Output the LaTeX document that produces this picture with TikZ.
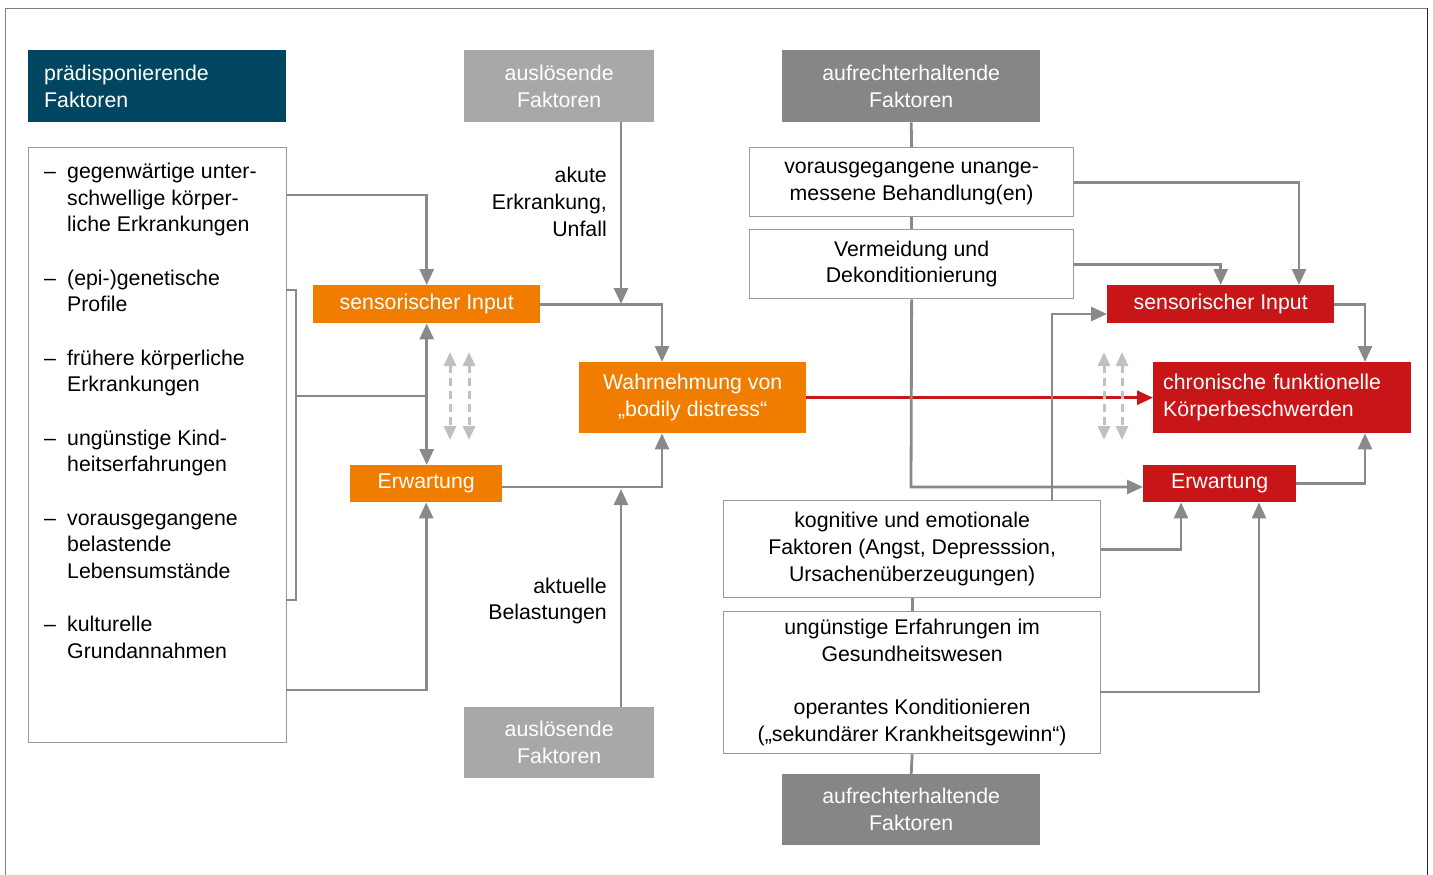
\documentclass[tikz,border=0pt]{standalone}
\usepackage{fontspec}
\setmainfont{Liberation Sans}
\usetikzlibrary{arrows.meta,calc}
\definecolor{cTeal}{HTML}{004660}
\definecolor{cOrange}{HTML}{F07C00}
\definecolor{cRed}{HTML}{C81517}
\definecolor{cLight}{HTML}{A9A8A9}
\definecolor{cDark}{HTML}{878586}
\definecolor{cArrow}{HTML}{898989}
\definecolor{cDash}{HTML}{C0C0C0}
\definecolor{cBorder}{HTML}{9A9A9A}
\newcommand\myfont{\fontsize{21.3}{26.67}\selectfont}
\tikzset{
  wbox/.style={draw=cBorder, line width=1.3pt, fill=white, anchor=north west, inner sep=0pt, align=center, font=\myfont},
  cbox/.style={fill=#1, text=white, anchor=north west, inner sep=0pt, align=center, font=\myfont},
  arr/.style={draw=cArrow, line width=2.8pt, -{Triangle[width=14pt,length=16pt]}},
  darr/.style={draw=cArrow, line width=2.8pt, {Triangle[width=14pt,length=16pt]}-{Triangle[width=14pt,length=16pt]}},
  ln/.style={draw=cArrow, line width=2.8pt},
  dsh/.style={draw=cDash, line width=3pt, dash pattern=on 8pt off 5pt, {Triangle[width=12pt,length=14pt]}-{Triangle[width=12pt,length=14pt]}},
  redarr/.style={draw=cRed, line width=2.8pt, -{Triangle[width=14pt,length=16pt]}},
  lbl/.style={inner sep=0pt, font=\myfont, align=right, anchor=east}
}
\begin{document}
\begin{tikzpicture}[x=1pt,y=-1pt]
\useasboundingbox (0,0) rectangle (1433,875);
% outer frame
\draw[draw=gray, line width=1.5pt] (5.5,875) -- (5.5,8.5) -- (1427.5,8.5);
\draw[draw=black!85, line width=1.5pt] (1427.5,8.5) -- (1427.5,875);

% left column
\node[cbox=cTeal, minimum width=258pt, minimum height=72pt, text width=226pt, inner xsep=16pt, align=left] (pred) at (28,50) {prädisponierende\\Faktoren};
\node[wbox, minimum width=258pt, minimum height=595pt] (list) at (28,147) {};
\node[inner sep=0pt, anchor=west, align=left, font=\myfont] (items) at (44,411) {%
\makebox[23pt][l]{–}gegenwärtige unter-\\\hspace*{23pt}schwellige körper-\\\hspace*{23pt}liche Erkrankungen\\[26.67pt]
\makebox[23pt][l]{–}(epi-)genetische\\\hspace*{23pt}Profile\\[26.67pt]
\makebox[23pt][l]{–}frühere körperliche\\\hspace*{23pt}Erkrankungen\\[26.67pt]
\makebox[23pt][l]{–}ungünstige Kind-\\\hspace*{23pt}heitserfahrungen\\[26.67pt]
\makebox[23pt][l]{–}vorausgegangene\\\hspace*{23pt}belastende\\\hspace*{23pt}Lebensumstände\\[26.67pt]
\makebox[23pt][l]{–}kulturelle\\\hspace*{23pt}Grundannahmen};

% orange nodes
\node[cbox=cOrange, minimum width=227pt, minimum height=38pt] (sensL) at (313,285) {sensorischer Input};
\node[cbox=cOrange, minimum width=152pt, minimum height=37pt] (erwL) at (350,465) {Erwartung};
\node[cbox=cOrange, minimum width=227pt, minimum height=71pt] (wahr) at (579,362) {Wahrnehmung von\\„bodily distress“};

% ausloesende
\node[cbox=cLight, minimum width=190pt, minimum height=72pt] (ausT) at (464,50) {auslösende\\Faktoren};
\node[cbox=cLight, minimum width=190pt, minimum height=71pt] (ausB) at (464,707) {auslösende\\Faktoren};
\node[lbl] (akute) at (607,202) {akute\\Erkrankung,\\Unfall};
\node[lbl] (aktuell) at (607,601) {aktuelle\\Belastungen};

% aufrechterhaltende
\node[cbox=cDark, minimum width=258pt, minimum height=72pt] (aufT) at (782,50) {aufrechterhaltende\\Faktoren};
\node[cbox=cDark, minimum width=258pt, minimum height=71pt] (aufB) at (782,774) {aufrechterhaltende\\Faktoren};
\node[wbox, minimum width=324pt, minimum height=69pt, text depth=2pt] (box1) at (749,147) {vorausgegangene unange-\\messene Behandlung(en)};
\node[wbox, minimum width=324pt, minimum height=69pt] (box2) at (749,229) {Vermeidung und\\Dekonditionierung};
\node[wbox, minimum width=377pt, minimum height=97pt] (kog) at (723,500) {kognitive und emotionale\\Faktoren (Angst, Depresssion,\\Ursachenüberzeugungen)};
\node[wbox, minimum width=377pt, minimum height=142pt] (box4) at (723,611) {ungünstige Erfahrungen im\\Gesundheitswesen\\[26.67pt]operantes Konditionieren\\(„sekundärer Krankheitsgewinn“)};

% red nodes
\node[cbox=cRed, minimum width=227pt, minimum height=38pt] (sensR) at (1107,285) {sensorischer Input};
\node[cbox=cRed, minimum width=258pt, minimum height=71pt, text width=238pt, inner xsep=10pt, align=left] (chron) at (1153,362) {chronische funktionelle\\Körperbeschwerden};
\node[cbox=cRed, minimum width=153pt, minimum height=37pt] (erwR) at (1143,465) {Erwartung};

% coordinates
\coordinate (l1) at (286,195);
\coordinate (brA) at (286,290);
\coordinate (brB) at (296,290);
\coordinate (brC) at (296,600);
\coordinate (brD) at (286,600);
\coordinate (l2) at (296,396);
\coordinate (l3) at (286,690);
\coordinate (a1) at (621,304);
\coordinate (a2) at (621,489);
\coordinate (w1) at (662,304);
\coordinate (w2) at (662,487);
\coordinate (r1) at (911,487);
\coordinate (s1) at (1299,0);
\coordinate (k1) at (1052,314);
\coordinate (c1) at (1365,0);
\coordinate (e1) at (1181,0);
\coordinate (e2) at (1259,0);
\coordinate (b4a) at (1100,692);
\coordinate (dA1) at (450,352); \coordinate (dA2) at (450,440);
\coordinate (dB1) at (469,352); \coordinate (dB2) at (469,440);
\coordinate (dC1) at (1104,352); \coordinate (dC2) at (1104,440);
\coordinate (dD1) at (1122,352); \coordinate (dD2) at (1122,440);

% left connectors
\draw[ln] (brA) -- (brB) -- (brC) -- (brD);
\draw[arr] (l1) -| (sensL.north);
\draw[ln] (l2) -- (l2 -| sensL.south);
\draw[arr] (l3) -| (erwL.south);
\draw[darr] (sensL.south) -- (sensL.south |- erwL.north);
\draw[dsh] (dA1) -- (dA2);
\draw[dsh] (dB1) -- (dB2);

% middle connectors
\draw[arr] (ausT.south -| a1) -- (a1);
\draw[arr] (sensL.east) -- (sensL.east -| w1) -- (wahr.north -| w1);
\draw[arr] (erwL.east |- w2) -- (w2) -- (wahr.south -| w2);
\draw[arr] (ausB.north -| a2) -- (a2);
\draw[redarr] (wahr.east) -- (chron.west);

% right connectors
\draw[ln] (aufT.south) -- (box1.north);
\draw[ln] (box1.south) -- (box2.north);
\draw[arr] (box2.south) -- (r1) -- (erwR.west |- r1);
\draw[arr] (box1.east) -| (sensR.north -| s1);
\draw[arr] (box2.east) -| (sensR.north);
\draw[arr] (kog.north -| k1) -- (k1) -- (sensR.west |- k1);
\draw[arr] (sensR.east) -| (chron.north -| c1);
\draw[arr] (erwR.east) -| (chron.south -| c1);
\draw[arr] (kog.east) -| (erwR.south -| e1);
\draw[arr] (b4a) -| (erwR.south -| e2);
\draw[ln] (kog.south) -- (box4.north);
\draw[ln] (box4.south) -- (aufB.north);
\draw[dsh] (dC1) -- (dC2);
\draw[dsh] (dD1) -- (dD2);
\end{tikzpicture}
\end{document}
